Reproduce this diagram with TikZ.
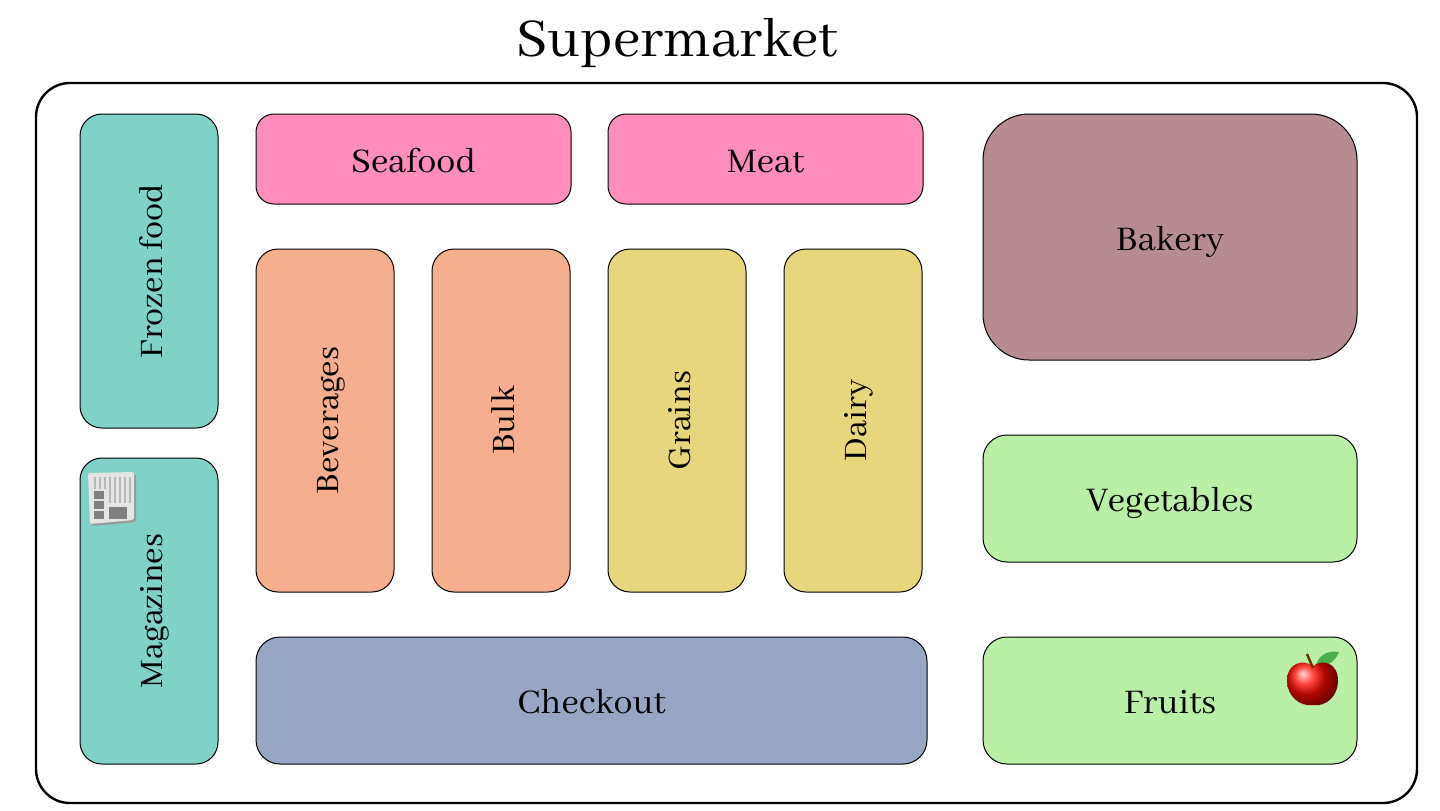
\documentclass[tikz,border=0pt]{standalone}
\usepackage{fontspec}
\setmainfont{Abhaya Libre}
\usetikzlibrary{shadings}
\definecolor{tealbox}{HTML}{7FD2C5}
\definecolor{pinkbox}{HTML}{FF8DBB}
\definecolor{salmonbox}{HTML}{F5AF8F}
\definecolor{yellowbox}{HTML}{E8D67D}
\definecolor{slatebox}{HTML}{96A6C4}
\definecolor{mauvebox}{HTML}{B68C92}
\definecolor{greenbox}{HTML}{BAF0A5}
\begin{document}
\begin{tikzpicture}[
    x=0.5pt, y=-0.5pt,
    section/.style={draw, line width=0.5pt, rounded corners=11pt, inner sep=0pt, text height=13pt, text depth=0pt, font=\fontsize{19}{22}\selectfont},
    aisle/.style={section, rotate=90, minimum height=69pt, font=\fontsize{18}{22}\selectfont},
    counter/.style={section, rounded corners=9pt, minimum width=157.5pt, minimum height=45pt, fill=pinkbox},
    produce/.style={section, rounded corners=12pt, minimum width=187pt, minimum height=63.5pt, fill=greenbox}
  ]
    \useasboundingbox (0,0) rectangle (1440,810);

    % Title and store outline
    \node[font=\fontsize{30}{34}\selectfont] (title) at (677,43) {Supermarket};
    \node[draw, line width=1.2pt, rounded corners=17pt, minimum width=690.5pt, minimum height=360pt] (store) at (726.5,443) {};

    % Left wall
    \node[aisle, fill=tealbox, minimum width=157pt] (frozen) at (149,271) {Frozen food};
    \node[aisle, fill=tealbox, minimum width=153pt] (magazines) at (149,611) {Magazines};

    % Counters
    \node[counter] (seafood) at (413.5,159) {Seafood};
    \node[counter] (meat) at (765.5,159) {Meat};

    % Middle aisles
    \foreach \name/\txt/\cx/\col in {beverages/Beverages/325/salmonbox, bulk/Bulk/501/salmonbox, grains/Grains/677/yellowbox, dairy/Dairy/853/yellowbox}
      \node[aisle, fill=\col, minimum width=171.5pt] (\name) at (\cx,420.5) {\txt};

    % Checkout
    \node[section, rounded corners=12pt, fill=slatebox, minimum width=335.5pt, minimum height=63.5pt] (checkout) at (591.5,700.5) {Checkout};

    % Right wall
    \node[section, rounded corners=23pt, fill=mauvebox, minimum width=187pt, minimum height=123pt] (bakery) at (1170,237) {Bakery};
    \node[produce] (vegetables) at (1170,498.5) {Vegetables};
    \node[produce] (fruits) at (1170,700.5) {Fruits};

    % Newspaper icon
    \fill[black!40, rounded corners=1pt] (90,476) -- (136,474) -- (136,522) -- (92,526) -- cycle;
    \fill[black!10, rounded corners=1pt] (88,473) -- (134,472) -- (134,520) -- (90,524) -- cycle;
    \foreach \lx in {95,100,105,110,115,120,125,130}
      \draw[black!28, line width=0.7pt] (\lx,477) -- (\lx,\ifnum\lx<110 489\else 503\fi);
    \foreach \ly in {491,501,511}
      \fill[black!50] (94,\ly) rectangle (104,\ly+8);
    \fill[black!50] (109,507) rectangle (127,519);

    % Apple icon
    \fill[green!55!black!70!white] (1316,666) .. controls (1318,655) and (1328,650) .. (1339,652) .. controls (1335,662) and (1327,667) .. (1316,666) -- cycle;
    \shade[ball color=red!92!orange]
      (1313,666) .. controls (1322,659) and (1338,662) .. (1338,681) .. controls (1338,696) and (1326,707) .. (1313,705)
      .. controls (1300,707) and (1287,696) .. (1287,681) .. controls (1287,662) and (1304,659) .. (1313,666) -- cycle;
    \draw[black!60!orange, line width=1.2pt] (1307,654) -- (1313,668);
\end{tikzpicture}
\end{document}
